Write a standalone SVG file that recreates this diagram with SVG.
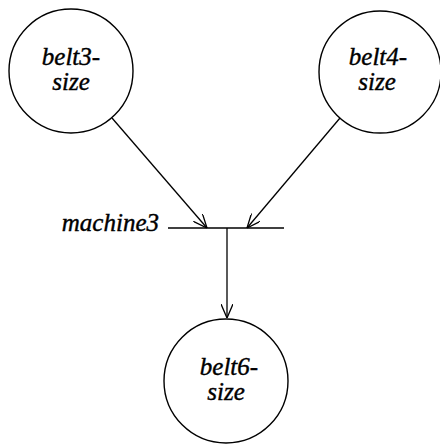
<svg xmlns="http://www.w3.org/2000/svg" width="440" height="444" viewBox="0 0 440 444">
<defs>
<marker id="arr" viewBox="0 0 14 12" refX="14" refY="6" markerWidth="14" markerHeight="12" markerUnits="userSpaceOnUse" orient="auto">
<polyline points="0,0 14,6 0,12" fill="none" stroke="#000" stroke-width="1.3"/>
</marker>
</defs>
<rect width="440" height="444" fill="#fff"/>
<g id="connectors" fill="none" stroke="#000" stroke-width="1.3">
<line x1="112" y1="118" x2="207" y2="228" marker-end="url(#arr)"/>
<line x1="340" y1="118" x2="247" y2="228" marker-end="url(#arr)"/>
<line x1="168" y1="228" x2="284" y2="228"/>
<line x1="227" y1="228" x2="227" y2="318" marker-end="url(#arr)"/>
</g>
<g id="belt3-size">
<circle cx="71" cy="71" r="62" fill="#fff" stroke="#000" stroke-width="1.4"/>
<text x="71" y="65" font-family="Liberation Serif" font-style="italic" font-size="25" text-anchor="middle" stroke="#000" stroke-width="0.4">belt3-</text>
<text x="71" y="90" font-family="Liberation Serif" font-style="italic" font-size="25" text-anchor="middle" stroke="#000" stroke-width="0.4">size</text>
</g>
<g id="belt4-size">
<circle cx="380" cy="72" r="61" fill="#fff" stroke="#000" stroke-width="1.4"/>
<text x="378" y="65" font-family="Liberation Serif" font-style="italic" font-size="25" text-anchor="middle" stroke="#000" stroke-width="0.4">belt4-</text>
<text x="377" y="90" font-family="Liberation Serif" font-style="italic" font-size="25" text-anchor="middle" stroke="#000" stroke-width="0.4">size</text>
</g>
<g id="machine3">
<text x="159" y="231" font-family="Liberation Serif" font-style="italic" font-size="25" text-anchor="end" stroke="#000" stroke-width="0.4">machine3</text>
</g>
<g id="belt6-size">
<circle cx="226" cy="381" r="62" fill="#fff" stroke="#000" stroke-width="1.4"/>
<text x="229" y="375" font-family="Liberation Serif" font-style="italic" font-size="25" text-anchor="middle" stroke="#000" stroke-width="0.4">belt6-</text>
<text x="226" y="400" font-family="Liberation Serif" font-style="italic" font-size="25" text-anchor="middle" stroke="#000" stroke-width="0.4">size</text>
</g>
</svg>
